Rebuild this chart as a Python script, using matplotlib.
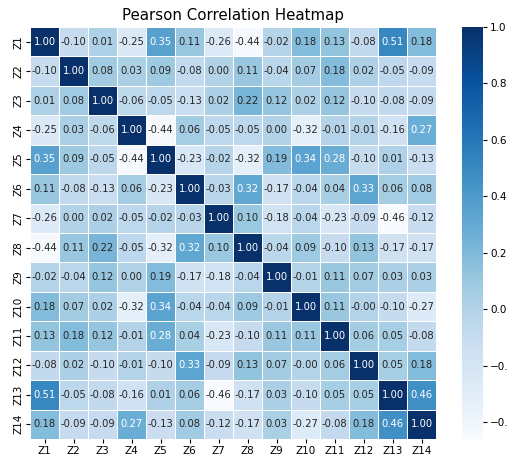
import numpy as np
import matplotlib
matplotlib.use("Agg")
import matplotlib.pyplot as plt
import seaborn as sns

labels = [f"Z{i}" for i in range(1, 15)]

r1 = [1.00, -0.10, 0.01, -0.25, 0.35, 0.11, -0.26, -0.44, -0.02, 0.18, 0.13, -0.08, 0.51, 0.18]
r2 = [-0.10, 1.00, 0.08, 0.03, 0.09, -0.08, 0.00, 0.11, -0.04, 0.07, 0.18, 0.02, -0.05, -0.09]
r3 = [0.01, 0.08, 1.00, -0.06, -0.05, -0.13, 0.02, 0.22, 0.12, 0.02, 0.12, -0.10, -0.08, -0.09]
r4 = [-0.25, 0.03, -0.06, 1.00, -0.44, 0.06, -0.05, -0.05, 0.00, -0.32, -0.01, -0.01, -0.16, 0.27]
r5 = [0.35, 0.09, -0.05, -0.44, 1.00, -0.23, -0.02, -0.32, 0.19, 0.34, 0.28, -0.10, 0.01, -0.13]
r6 = [0.11, -0.08, -0.13, 0.06, -0.23, 1.00, -0.03, 0.32, -0.17, -0.04, 0.04, 0.33, 0.06, 0.08]
r7 = [-0.26, 0.00, 0.02, -0.05, -0.02, -0.03, 1.00, 0.10, -0.18, -0.04, -0.23, -0.09, -0.46, -0.12]
r8 = [-0.44, 0.11, 0.22, -0.05, -0.32, 0.32, 0.10, 1.00, -0.04, 0.09, -0.10, 0.13, -0.17, -0.17]
r9 = [-0.02, -0.04, 0.12, 0.00, 0.19, -0.17, -0.18, -0.04, 1.00, -0.01, 0.11, 0.07, 0.03, 0.03]
r10 = [0.18, 0.07, 0.02, -0.32, 0.34, -0.04, -0.04, 0.09, -0.01, 1.00, 0.11, -0.004, -0.10, -0.27]
r11 = [0.13, 0.18, 0.12, -0.01, 0.28, 0.04, -0.23, -0.10, 0.11, 0.11, 1.00, 0.06, 0.05, -0.08]
r12 = [-0.08, 0.02, -0.10, -0.01, -0.10, 0.33, -0.09, 0.13, 0.07, -0.004, 0.06, 1.00, 0.05, 0.18]
r13 = [0.51, -0.05, -0.08, -0.16, 0.01, 0.06, -0.46, -0.17, 0.03, -0.10, 0.05, 0.05, 1.00, 0.46]
r14 = [0.18, -0.09, -0.09, 0.27, -0.13, 0.08, -0.12, -0.17, 0.03, -0.27, -0.08, 0.18, 0.46, 1.00]

corr = np.array([r1, r2, r3, r4, r5, r6, r7, r8, r9, r10, r11, r12, r13, r14])

W, H = 507, 457
fig = plt.figure(figsize=(W / 100, H / 100), dpi=100)
ax = fig.add_axes([30 / W, 1 - 439 / H, 406 / W, 412 / H])
cax = fig.add_axes([462 / W, 1 - 439 / H, 21 / W, 412 / H])

sns.heatmap(corr, ax=ax, cbar_ax=cax, cmap="Blues", annot=True, fmt=".2f",
            annot_kws={"size": 7.2}, linewidths=0.5, linecolor="white",
            xticklabels=labels, yticklabels=labels)
ax.tick_params(axis="both", labelsize=7.5, length=3, pad=2)
plt.setp(ax.get_yticklabels(), rotation=90, va="center")
plt.setp(ax.get_xticklabels(), rotation=0)
cax.tick_params(labelsize=7.5, length=3, pad=2)
ax.set_title("Pearson Correlation Heatmap", fontsize=10.8, pad=5)

fig.savefig("out.png", dpi=100)
